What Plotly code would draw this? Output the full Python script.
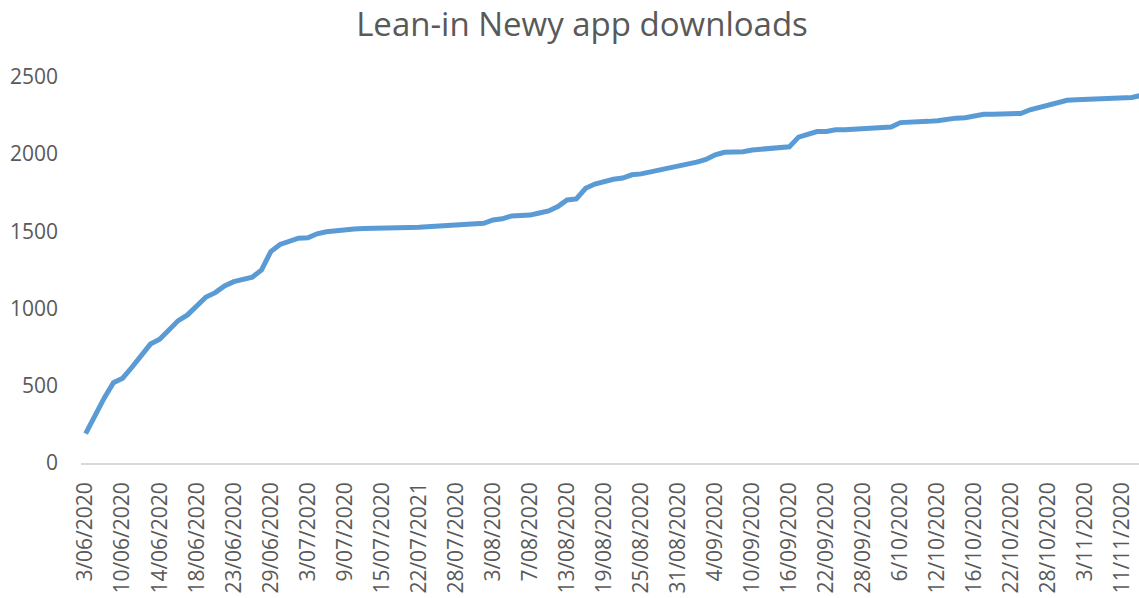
import plotly.graph_objects as go

# Reporting dates (one entry per data row)
dates = [
    "3/06/2020", "4/06/2020", "5/06/2020", "8/06/2020",
    "10/06/2020", "11/06/2020", "12/06/2020", "13/06/2020",
    "14/06/2020", "15/06/2020", "16/06/2020", "17/06/2020",
    "18/06/2020", "19/06/2020", "20/06/2020", "22/06/2020",
    "23/06/2020", "24/06/2020", "25/06/2020", "26/06/2020",
    "29/06/2020", "30/06/2020", "1/07/2020", "2/07/2020",
    "3/07/2020", "6/07/2020", "7/07/2020", "8/07/2020",
    "9/07/2020", "10/07/2020", "13/07/2020", "14/07/2020",
    "15/07/2020", "16/07/2020", "17/07/2020", "20/07/2020",
    "22/07/2021", "23/07/2020", "24/07/2020", "27/07/2020",
    "28/07/2020", "29/07/2020", "30/07/2020", "31/07/2020",
    "3/08/2020", "4/08/2020", "5/08/2020", "6/08/2020",
    "7/08/2020", "10/08/2020", "11/08/2020", "12/08/2020",
    "13/08/2020", "14/08/2020", "17/08/2020", "18/08/2020",
    "19/08/2020", "20/08/2020", "21/08/2020", "24/08/2020",
    "25/08/2020", "26/08/2020", "27/08/2020", "28/08/2020",
    "31/08/2020", "1/09/2020", "2/09/2020", "3/09/2020",
    "4/09/2020", "7/09/2020", "8/09/2020", "9/09/2020",
    "10/09/2020", "11/09/2020", "14/09/2020", "15/09/2020",
    "16/09/2020", "17/09/2020", "18/09/2020", "21/09/2020",
    "22/09/2020", "23/09/2020", "24/09/2020", "25/09/2020",
    "28/09/2020", "29/09/2020", "30/09/2020", "1/10/2020",
    "6/10/2020", "7/10/2020", "8/10/2020", "9/10/2020",
    "12/10/2020", "13/10/2020", "14/10/2020", "15/10/2020",
    "16/10/2020", "19/10/2020", "20/10/2020", "21/10/2020",
    "22/10/2020", "23/10/2020", "26/10/2020", "27/10/2020",
    "28/10/2020", "29/10/2020", "30/10/2020", "2/11/2020",
    "3/11/2020", "5/11/2020", "6/11/2020", "9/11/2020",
    "11/11/2020", "12/11/2020", "13/11/2020",
]

# Cumulative downloads
downloads = [
    190, 310, 420, 520,
    549, 620, 696, 770,
    801, 861, 922, 959,
    1017, 1075, 1103, 1146,
    1174, 1185, 1203, 1250,
    1369, 1415, 1435, 1456,
    1458, 1484, 1497, 1505,
    1506, 1515, 1518, 1518,
    1518, 1518, 1520, 1525,
    1527, 1531, 1535, 1538,
    1541, 1542, 1545, 1552,
    1574, 1581, 1600, 1603,
    1605, 1619, 1632, 1660,
    1703, 1710, 1779, 1806,
    1822, 1837, 1845, 1866,
    1872, 1885, 1895, 1905,
    1920, 1930, 1948, 1965,
    1995, 2012, 2012, 2016,
    2027, 2030, 2034, 2040,
    2047, 2110, 2132, 2146,
    2147, 2157, 2157, 2160,
    2163, 2163, 2168, 2175,
    2204, 2204, 2208, 2212,
    2216, 2226, 2233, 2235,
    2250, 2258, 2258, 2259,
    2260, 2263, 2287, 2302,
    2318, 2334, 2349, 2352,
    2354, 2359, 2363, 2366,
    2366, 2367, 2380,
]

# Every fourth date is labelled on the category axis
tick_dates = dates[::4]
y_ticks = [0, 500, 1000, 1500, 2000, 2500]

TEXT = "#595959"
FONT = "Open Sans"

fig = go.Figure(
    go.Scatter(
        x=dates,
        y=downloads,
        mode="lines",
        line=dict(color="#5B9BD5", width=5),
        hoverinfo="x+y",
    )
)

fig.update_layout(
    width=1139,
    height=598,
    margin=dict(l=81, r=0, t=46, b=135),
    paper_bgcolor="white",
    plot_bgcolor="white",
    showlegend=False,
    font=dict(family=FONT, color=TEXT),
    title=dict(
        text="Lean-in Newy app downloads",
        x=582 / 1139,
        xanchor="center",
        xref="container",
        y=1 - 24 / 598,
        yref="container",
        yanchor="middle",
        font=dict(family=FONT, size=33, color=TEXT),
    ),
)

fig.update_xaxes(
    type="category",
    categoryorder="array",
    categoryarray=dates,
    range=[-0.5, 113.77],
    tickmode="array",
    tickvals=tick_dates,
    ticktext=tick_dates,
    tickangle=-90,
    tickfont=dict(family=FONT, size=21, color=TEXT),
    ticklabelstandoff=9,
    showgrid=False,
    showline=True,
    linecolor="#D9D9D9",
    linewidth=1.5,
    ticks="",
    zeroline=False,
    automargin=False,
)

fig.update_yaxes(
    range=[0, 2700],
    tickmode="array",
    tickvals=y_ticks,
    tickfont=dict(family=FONT, size=21, color=TEXT),
    ticklabelstandoff=22,
    showgrid=False,
    showline=False,
    zeroline=False,
    ticks="",
    automargin=False,
)

fig.write_html("out.html")
